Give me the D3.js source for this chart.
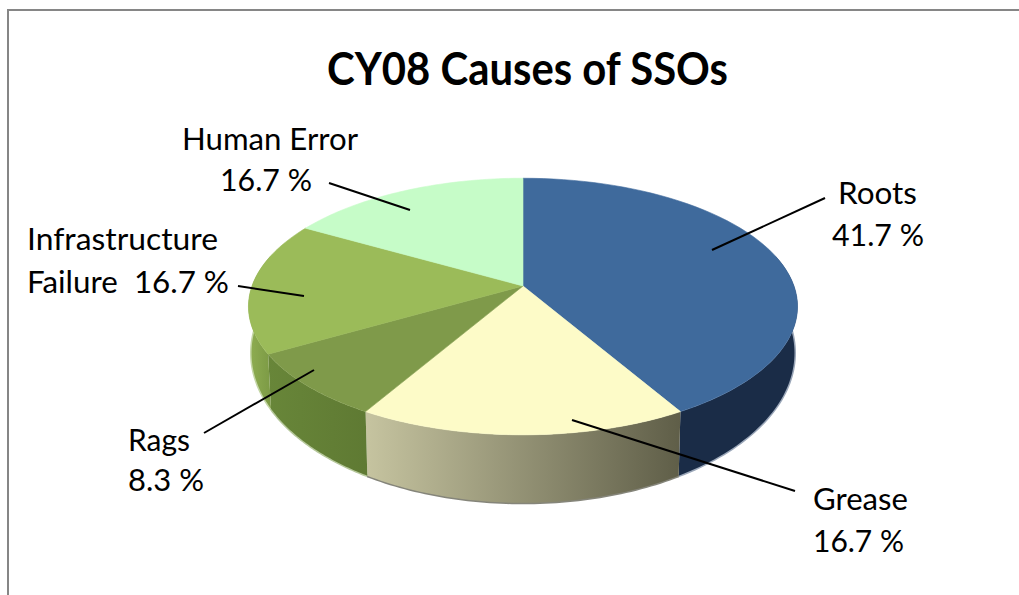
<!DOCTYPE html>
<html><head><meta charset="utf-8">
<script src="https://cdn.jsdelivr.net/npm/d3@7/dist/d3.min.js"></script>
<style>html,body{margin:0;padding:0;background:#fff}svg{display:block}
text{font-family:Lato,"Open Sans",sans-serif;fill:#000}</style></head>
<body><svg id="c" width="1019" height="595"></svg>
<script>
const categories=["Roots","Grease","Rags","Infrastructure Failure","Human Error"];
const values=[41.7,16.7,8.3,16.7,16.7];
const topColors=["#3f6a9c","#fdfbc8","#7f9a4a","#9bbb59","#c6fcc8"];
const wallStart=["#1a2c47","#c6c4a0","#688639","#8fae52","#b0d0b0"];
const wallEnd=["#1a2c47","#5f5e48","#5f7a33","#7c9a45","#b0d0b0"];
const edgeColors=["#9aa6b8","#85857a","#b5c79a","#c4d6a6","#ccc"];
const labelLines=[["Roots","41.7 %"],["Grease","16.7 %"],["Rags","8.3 %"],["Infrastructure","Failure  16.7 %"],["Human Error","16.7 %"]];
const labelPos=[[[838,204,79],[832,246,92]],[[813,510,95],[813,552,91]],[[128,451,62],[128,491,76]],[[27,250,191],[27,293,202]],[[182,150,176],[220,191,92]]];
const leaders=[[825,198,712,250],[795,491,572,420],[204,433,314,370],[238,286,304,296],[329,183,410,210]];

const svg=d3.select("#c");
const k=0.16;
function proj(p){return (a,r=1)=>{const u=Math.sin(a)*r,v=-Math.cos(a)*r,w=1-k*v;
  return [p.cx+p.B*u/w,p.cy+p.A*v/w];};}
const topP=proj({cx:523,cy:286,B:271,A:125});
const botP=proj({cx:523,cy:329,B:268,A:146});
const arcs=d3.pie().sort(null).value(d=>d).startAngle(0).endAngle(2*Math.PI)(values);
const line=d3.line();
const samp=(a0,a1)=>d3.range(0,61).map(i=>a0+(a1-a0)*i/60);

const defs=svg.append("defs");
const vis0=Math.PI*0.42,vis1=Math.PI*1.58;
const walls=arcs.map((d,i)=>{const a0=Math.max(d.startAngle,vis0),a1=Math.min(d.endAngle,vis1);return {i,a0,a1};}).filter(w=>w.a1>w.a0);
walls.forEach(w=>{
  const xs=samp(w.a0,w.a1).map(a=>topP(a)[0]);
  const g=defs.append("linearGradient").attr("id","w"+w.i).attr("gradientUnits","userSpaceOnUse")
    .attr("x1",d3.min(xs)).attr("x2",d3.max(xs)).attr("y1",0).attr("y2",0);
  g.append("stop").attr("offset",0).attr("stop-color",wallStart[w.i]);
  g.append("stop").attr("offset",1).attr("stop-color",wallEnd[w.i]);
});

// frame
svg.append("path").attr("d","M8,595V10H1019").attr("fill","none").attr("stroke","#868686").attr("stroke-width",2);

// walls
const gw=svg.append("g");
walls.forEach(w=>{
  const a=samp(w.a0,w.a1);
  gw.append("path").attr("d",line(a.map(x=>botP(x))))
    .attr("fill","none").attr("stroke",edgeColors[w.i]).attr("stroke-width",3);
});
walls.forEach(w=>{
  const a=samp(w.a0,w.a1);
  gw.append("path").attr("d",line(a.map(x=>topP(x)).concat(a.slice().reverse().map(x=>botP(x))))+"Z")
    .attr("fill","url(#w"+w.i+")");
});

// tops
svg.append("g").selectAll("path").data(arcs).join("path")
  .attr("d",d=>line([topP(0,0)].concat(samp(d.startAngle,d.endAngle).map(a=>topP(a))))+"Z")
  .attr("fill",(d,i)=>topColors[i]).attr("stroke",(d,i)=>topColors[i]).attr("stroke-width",0.6);

// leaders
svg.append("g").selectAll("line").data(leaders).join("line")
  .attr("x1",d=>d[0]).attr("y1",d=>d[1]).attr("x2",d=>d[2]).attr("y2",d=>d[3])
  .attr("stroke","#000").attr("stroke-width",2);

// labels
labelLines.forEach((ls,i)=>ls.forEach((t,j)=>{
  const p=labelPos[i][j];
  svg.append("text").attr("x",p[0]).attr("y",p[1]).attr("font-size",30)
    .attr("textLength",p[2]).attr("lengthAdjust","spacingAndGlyphs")
    .attr("xml:space","preserve").style("white-space","pre").text(t);
}));
svg.append("text").attr("x",327).attr("y",85).attr("font-size",45).attr("font-weight",700)
  .attr("textLength",401).attr("lengthAdjust","spacingAndGlyphs").text("CY08 Causes of SSOs");
</script></body></html>
